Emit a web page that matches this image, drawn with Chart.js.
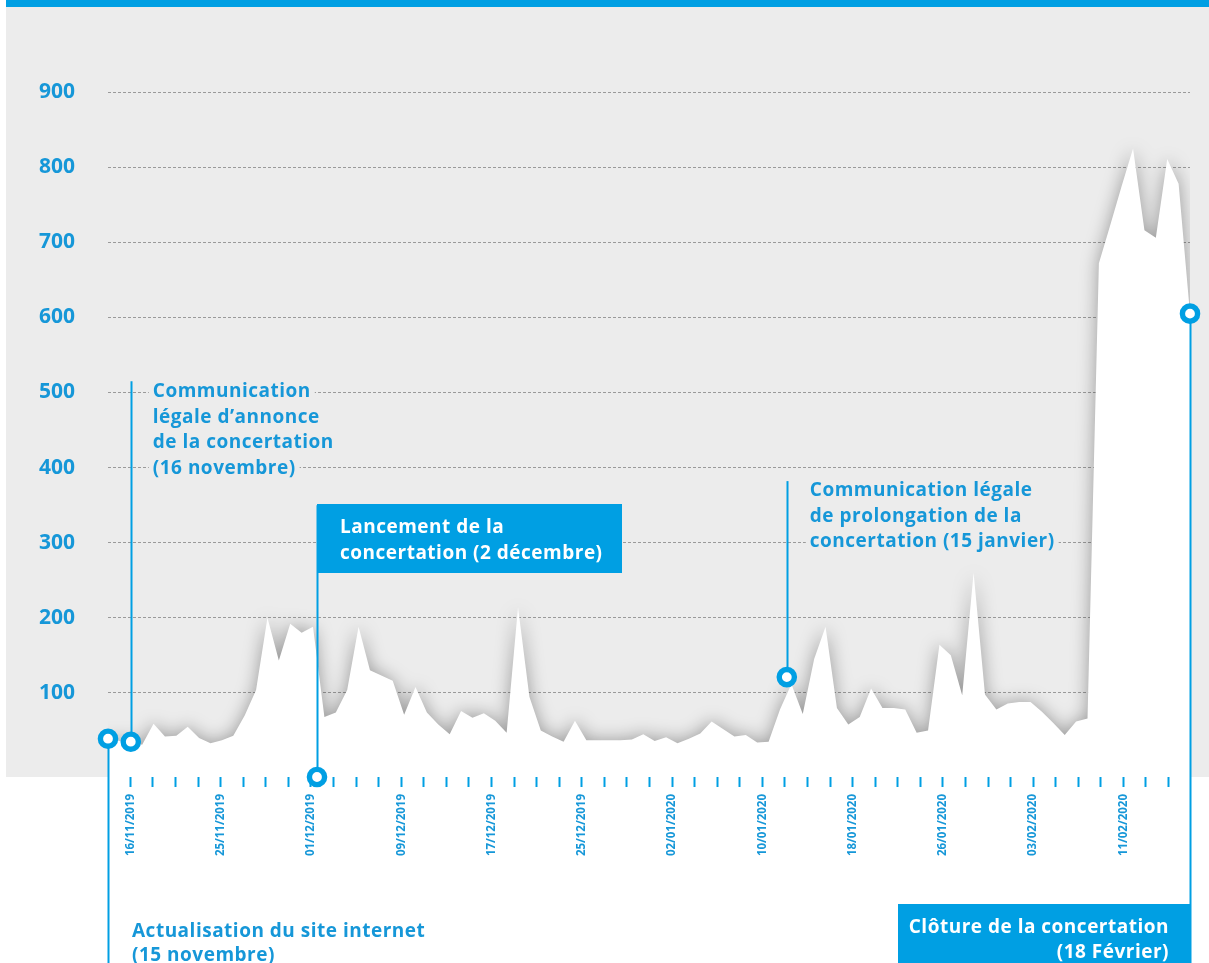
<!DOCTYPE html>
<html lang="fr">
<head>
<meta charset="utf-8">
<title>Visites du site de la concertation</title>
<script src="https://cdn.jsdelivr.net/npm/chart.js@4.4.1/dist/chart.umd.min.js"></script>
<style>
  html, body { margin: 0; padding: 0; background: #fff; }
  #wrap { width: 1209px; height: 963px; }
</style>
</head>
<body>
<div id="wrap"><canvas id="chart" width="1209" height="963"></canvas></div>
<script>
// daily visits, 15/11/2019 -> 18/02/2020
const visits = [
  39, 36, 35, 31, 59, 42, 43, 55, 40, 33,
  37, 43, 70, 104, 200, 143, 192, 180, 188, 68,
  74, 104, 188, 130, 123, 116, 71, 108, 74, 58,
  45, 76, 67, 73, 63, 47, 214, 95, 50, 42,
  35, 63, 37, 37, 37, 37, 38, 45, 36, 41,
  33, 39, 46, 62, 52, 42, 44, 34, 35, 78,
  112, 72, 145, 188, 80, 58, 68, 106, 80, 80,
  78, 47, 50, 164, 150, 97, 260, 98, 78, 86,
  88, 88, 75, 60, 44, 62, 66, 672, 723, 775,
  825, 716, 706, 811, 778, 605
];

const yTickValues = [100, 200, 300, 400, 500, 600, 700, 800, 900];

// one tick mark every 2 days, a date label every 4 ticks
const tickCount = 47;
const tickLabels = [
  '16/11/2019', '25/11/2019', '01/12/2019', '09/12/2019', '17/12/2019', '25/12/2019',
  '02/01/2020', '10/01/2020', '18/01/2020', '26/01/2020', '03/02/2020', '11/02/2020'
];

// event markers (day index, value)
const markerDays = [0, 2, 18.35, 59.6, 95];
const markerValues = [39, 35, -12, 121, 605];

const noteTexts = [
  ['Actualisation du site internet', '(15 novembre)'],
  ['Communication', 'légale d\u2019annonce', 'de la concertation', '(16 novembre)'],
  ['Lancement de la', 'concertation (2 décembre)'],
  ['Communication légale', 'de prolongation de la', 'concertation (15 janvier)'],
  ['Clôture de la concertation', '(18 Février)']
];

const BLUE = '#009fe3';
const TEXT_BLUE = '#1697d8';
const PANEL = '#ececec';
const FONT = '"Open Sans", "DejaVu Sans", sans-serif';
const NOTE_FONT = 'bold 19px ' + FONT;

// grey panel + blue top band
const panelBg = {
  id: 'panelBg',
  beforeDraw(chart) {
    const ctx = chart.ctx;
    ctx.save();
    ctx.fillStyle = '#fff';
    ctx.fillRect(0, 0, chart.width, chart.height);
    ctx.fillStyle = PANEL;
    ctx.fillRect(6, 7, chart.width - 6, chart.chartArea.bottom - 7);
    ctx.fillStyle = BLUE;
    ctx.fillRect(6, 0, chart.width - 6, 7);
    ctx.restore();
  }
};

const textLines = (ctx, lines, x, y, step, color, bg) => {
  lines.forEach((t, i) => {
    const by = y + i * step;
    if (bg) {
      const w = ctx.measureText(t).width;
      const left = ctx.textAlign === 'right' ? x - w : x;
      ctx.fillStyle = bg;
      ctx.fillRect(left - 4, by - 17, w + 8, 23);
    }
    ctx.fillStyle = color;
    ctx.fillText(t, x, by);
  });
};

const drawNotes = (chart) => {
  const ctx = chart.ctx;
  const xs = chart.scales.x, ys = chart.scales.y;
  const px = markerDays.map(d => xs.getPixelForValue(d));
  const py = markerValues.map(v => ys.getPixelForValue(v));
  const H = chart.height;

  ctx.save();
  ctx.strokeStyle = BLUE;
  ctx.lineWidth = 2;
  const stems = [
    [px[0], py[0], H],
    [px[1], py[1], ys.getPixelForValue(515)],
    [px[2], py[2], ys.getPixelForValue(350)],
    [px[3], py[3], ys.getPixelForValue(382)],
    [px[4], py[4], H]
  ];
  stems.forEach(([x, y0, y1]) => {
    ctx.beginPath();
    ctx.moveTo(Math.round(x) + 0.5, y0);
    ctx.lineTo(Math.round(x) + 0.5, y1);
    ctx.stroke();
  });

  ctx.font = NOTE_FONT;
  ctx.letterSpacing = '0.5px';
  ctx.textBaseline = 'alphabetic';
  ctx.textAlign = 'left';

  // 15 novembre (below the axis)
  textLines(ctx, noteTexts[0], px[0] + 24, 937, 24, TEXT_BLUE, null);
  // 16 novembre
  textLines(ctx, noteTexts[1], px[1] + 22, 397, 25.5, TEXT_BLUE, PANEL);
  // 2 décembre (blue box)
  const b2x = Math.round(px[2]);
  ctx.fillStyle = BLUE;
  ctx.fillRect(b2x, 504, 305, 69);
  textLines(ctx, noteTexts[2], b2x + 23, 533, 26, '#fff', null);
  // 15 janvier
  textLines(ctx, noteTexts[3], px[3] + 23, 496, 25.5, TEXT_BLUE, PANEL);
  // 18 février (blue box, right aligned)
  const b5r = Math.round(px[4]) + 1;
  ctx.fillStyle = BLUE;
  ctx.fillRect(b5r - 293, 904, 293, H - 904);
  ctx.textAlign = 'right';
  textLines(ctx, noteTexts[4], b5r - 22, 933, 25, '#fff', null);
  ctx.restore();
};

// soft shadow under the white area, then the notes (markers are drawn on top)
const areaShadow = {
  id: 'areaShadow',
  beforeDatasetsDraw(chart) {
    const ctx = chart.ctx;
    ctx.save();
    ctx.shadowColor = 'rgba(0,0,0,0.36)';
    ctx.shadowBlur = 18;
  },
  afterDatasetDraw(chart, args) {
    if (args.index !== 0) return;
    chart.ctx.restore();
    drawNotes(chart);
  }
};

new Chart(document.getElementById('chart'), {
  type: 'line',
  data: {
    datasets: [
      {
        data: visits.map((v, i) => ({ x: i, y: v })),
        fill: 'start',
        backgroundColor: '#ffffff',
        borderWidth: 0,
        pointRadius: 0,
        tension: 0,
        order: 1
      },
      {
        type: 'scatter',
        data: markerDays.map((d, i) => ({ x: d, y: markerValues[i] })),
        pointRadius: 7.6,
        pointBorderWidth: 5.4,
        pointBackgroundColor: '#fff',
        pointBorderColor: BLUE,
        clip: false,
        order: 0
      }
    ]
  },
  options: {
    responsive: false,
    animation: false,
    events: [],
    layout: { padding: { top: 17, right: 19, left: 0, bottom: 0 } },
    plugins: { legend: { display: false }, tooltip: { enabled: false } },
    scales: {
      x: { type: 'linear', min: 0, max: visits.length - 1, display: false },
      xt: {
        type: 'linear',
        position: 'bottom',
        min: -0.9925,
        max: 46.95,
        afterBuildTicks: (s) => { s.ticks = Array.from({ length: tickCount }, (_, i) => ({ value: i })); },
        afterFit: (s) => { s.height = 186; s.paddingLeft = 0; s.paddingRight = 0; },
        grid: { drawOnChartArea: false, drawTicks: true, tickLength: 10, tickWidth: 2, tickColor: BLUE },
        border: { display: false },
        ticks: {
          autoSkip: false,
          minRotation: 90,
          maxRotation: 90,
          padding: 7,
          color: TEXT_BLUE,
          font: { family: FONT, size: 11.5, weight: 'bold' },
          callback: (v) => (v % 4 === 0 ? tickLabels[v / 4] : '')
        }
      },
      y: {
        min: -12,
        max: 1000,
        afterBuildTicks: (s) => { s.ticks = yTickValues.map(v => ({ value: v })); },
        afterFit: (s) => { s.width = 108; s.paddingTop = 0; s.paddingBottom = 0; },
        grid: { color: '#9a9a9a', lineWidth: 1, drawTicks: false },
        border: { display: false, dash: [3, 2] },
        ticks: {
          padding: 33,
          color: TEXT_BLUE,
          font: { family: FONT, size: 21, weight: 'bold' }
        }
      }
    }
  },
  plugins: [panelBg, areaShadow]
});
</script>
</body>
</html>
